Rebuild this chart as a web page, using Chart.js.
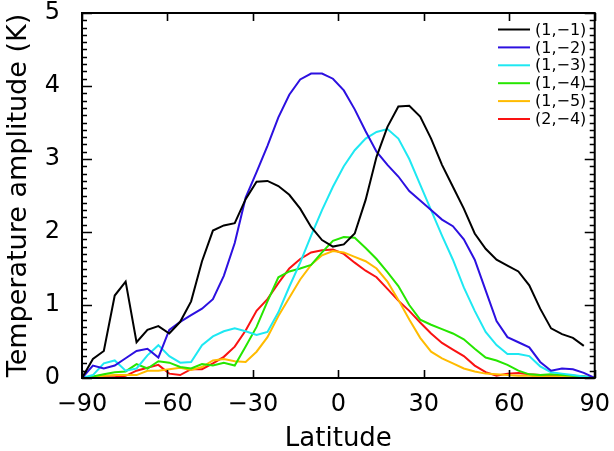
<!DOCTYPE html>
<html>
<head>
<meta charset="utf-8">
<script src="https://cdn.jsdelivr.net/npm/chart.js@4.4.1/dist/chart.umd.min.js"></script>
<style>
  html, body { margin: 0; padding: 0; background: #fff; }
  #wrap { width: 614px; height: 451px; }
</style>
</head>
<body>
<div id="wrap"><canvas id="ampChart" width="614" height="451"></canvas></div>
<script>
// latitude grid (deg)
const lats = [-90, -86.17, -82.34, -78.51, -74.68, -70.85, -67.02, -63.19, -59.36, -55.53,
  -51.70, -47.87, -44.04, -40.21, -36.38, -32.55, -28.72, -24.89, -21.06, -17.23,
  -13.40, -9.57, -5.74, -1.91, 1.91, 5.74, 9.57, 13.40, 17.23, 21.06,
  24.89, 28.72, 32.55, 36.38, 40.21, 44.04, 47.87, 51.70, 55.53, 59.36,
  63.19, 67.02, 70.85, 74.68, 78.51, 82.34, 86.17, 90];

// temperature amplitude (K) per mode
const mode_1_1 = [0, 0.26, 0.37, 1.13, 1.32, 0.49, 0.66, 0.71, 0.61, 0.77,
  1.05, 1.6, 2.02, 2.09, 2.12, 2.45, 2.69, 2.70, 2.63, 2.51,
  2.32, 2.07, 1.89, 1.80, 1.83, 1.98, 2.44, 3.03, 3.44, 3.72,
  3.73, 3.58, 3.28, 2.92, 2.62, 2.32, 1.98, 1.77, 1.62, 1.54,
  1.46, 1.27, 0.95, 0.68, 0.60, 0.55, 0.44, null];
const mode_1_2 = [0, 0.17, 0.13, 0.17, 0.27, 0.37, 0.40, 0.28, 0.66, 0.77,
  0.86, 0.95, 1.08, 1.4, 1.85, 2.47, 2.82, 3.18, 3.57, 3.88,
  4.09, 4.17, 4.17, 4.10, 3.94, 3.68, 3.38, 3.10, 2.92, 2.76,
  2.56, 2.43, 2.30, 2.17, 2.08, 1.90, 1.62, 1.20, 0.78, 0.56,
  0.49, 0.42, 0.22, 0.10, 0.13, 0.12, 0.07, 0];
const mode_1_3 = [0, 0.04, 0.20, 0.24, 0.10, 0.13, 0.31, 0.45, 0.30, 0.21,
  0.22, 0.45, 0.57, 0.64, 0.68, 0.64, 0.59, 0.63, 0.90, 1.25,
  1.58, 1.95, 2.30, 2.62, 2.90, 3.12, 3.28, 3.37, 3.41, 3.28,
  3.00, 2.65, 2.30, 1.95, 1.62, 1.24, 0.92, 0.63, 0.45, 0.33,
  0.33, 0.30, 0.16, 0.08, 0.06, 0.04, 0.02, 0];
const mode_1_4 = [0, 0.02, 0.05, 0.08, 0.09, 0.19, 0.13, 0.23, 0.21, 0.15,
  0.13, 0.19, 0.17, 0.21, 0.17, 0.43, 0.70, 1.05, 1.38, 1.46,
  1.50, 1.55, 1.72, 1.88, 1.93, 1.92, 1.78, 1.63, 1.45, 1.26,
  1.00, 0.80, 0.73, 0.67, 0.61, 0.53, 0.40, 0.28, 0.24, 0.18,
  0.10, 0.05, 0.04, 0.05, 0.04, 0.03, 0.02, 0];
const mode_1_5 = [0, 0.01, 0.03, 0.04, 0.04, 0.04, 0.10, 0.10, 0.12, 0.14,
  0.11, 0.15, 0.24, 0.26, 0.23, 0.22, 0.36, 0.56, 0.85, 1.10,
  1.35, 1.55, 1.68, 1.74, 1.72, 1.66, 1.60, 1.50, 1.32, 1.07,
  0.80, 0.55, 0.36, 0.27, 0.20, 0.13, 0.09, 0.06, 0.05, 0.04,
  0.03, 0.03, 0.02, 0.02, 0.02, 0.01, 0.01, 0];
const mode_2_4 = [0, 0, 0.01, 0.01, 0.03, 0.10, 0.14, 0.18, 0.06, 0.04,
  0.12, 0.12, 0.20, 0.29, 0.43, 0.65, 0.92, 1.08, 1.30, 1.50,
  1.63, 1.72, 1.75, 1.76, 1.70, 1.58, 1.47, 1.38, 1.22, 1.06,
  0.92, 0.76, 0.61, 0.48, 0.39, 0.30, 0.17, 0.08, 0.03, 0.06,
  0.07, 0.05, 0.04, 0.04, 0.04, 0.03, 0.02, 0];

const seriesNames = ["(1,\u22121)", "(1,\u22122)", "(1,\u22123)", "(1,\u22124)", "(1,\u22125)", "(2,\u22124)"];
const seriesValues = [mode_1_1, mode_1_2, mode_1_3, mode_1_4, mode_1_5, mode_2_4];
const seriesColors = ["#000000", "#2c10e0", "#1ee8f2", "#26e600", "#ffbb00", "#fa1212"];

const xTicks = [-90, -60, -30, 0, 30, 60, 90];
const yMax = 5;

const FONT = "'DejaVu Sans', sans-serif";

// IDL style box: frame, inward ticks, legend in the upper right
const framePlugin = {
  id: "frame",
  afterDatasetsDraw(chart) {
    const { ctx, chartArea: a, scales: { x, y } } = chart;
    ctx.save();
    ctx.strokeStyle = "#000";
    ctx.lineWidth = 1.6;
    ctx.beginPath();
    xTicks.forEach((v) => {
      const px = Math.round(x.getPixelForValue(v)) + 0.5;
      ctx.moveTo(px, a.bottom); ctx.lineTo(px, a.bottom - 8);
      ctx.moveTo(px, a.top); ctx.lineTo(px, a.top + 8);
    });
    for (let k = 0; k <= yMax * 10; k++) {
      const py = Math.round(y.getPixelForValue(k / 10)) + 0.5;
      const len = k % 10 === 0 ? 10 : 5;
      ctx.moveTo(a.left, py); ctx.lineTo(a.left + len, py);
      ctx.moveTo(a.right, py); ctx.lineTo(a.right - len, py);
    }
    ctx.stroke();

    ctx.lineWidth = 2;
    ctx.strokeRect(a.left, a.top, a.right - a.left, a.bottom - a.top);

    // legend
    ctx.font = "16px " + FONT;
    ctx.textBaseline = "middle";
    ctx.textAlign = "left";
    seriesNames.forEach((name, i) => {
      const ly = 29.5 + i * 17.9;
      ctx.strokeStyle = seriesColors[i];
      ctx.beginPath();
      ctx.moveTo(498, ly); ctx.lineTo(530, ly);
      ctx.stroke();
      ctx.fillStyle = "#000";
      ctx.fillText(name, 535, ly + 1);
    });
    ctx.restore();
  }
};

const ctx = document.getElementById("ampChart");

const ampChart = new Chart(ctx, {
  type: "line",
  data: {
    datasets: seriesValues.map((vals, i) => ({
      label: seriesNames[i],
      data: lats.map((lat, j) => ({ x: lat, y: vals[j] })),
      borderColor: seriesColors[i],
      backgroundColor: seriesColors[i],
      borderWidth: 2,
      pointRadius: 0,
      tension: 0,
      fill: false,
      clip: false,
    })),
  },
  options: {
    responsive: false,
    animation: false,
    layout: { padding: { top: 13, right: 16, left: 0, bottom: 0 } },
    plugins: {
      legend: { display: false },
      tooltip: { enabled: false },
    },
    scales: {
      x: {
        type: "linear",
        min: -90,
        max: 90,
        grid: { display: false },
        border: { display: false },
        afterFit: (s) => { s.height = 73; },
        afterBuildTicks: (s) => { s.ticks = xTicks.map((v) => ({ value: v })); },
        ticks: {
          color: "#000",
          padding: 4,
          maxRotation: 0,
          font: { family: FONT, size: 24 },
          callback: (v) => String(v).replace("-", "\u2212"),
        },
        title: {
          display: true,
          text: "Latitude",
          color: "#000",
          font: { family: FONT, size: 26 },
          padding: { top: 0, bottom: -4 },
        },
      },
      y: {
        min: 0,
        max: yMax,
        grid: { display: false },
        border: { display: false },
        afterFit: (s) => {
          s.width = 82;
          s.paddingTop = 0;
          s.paddingBottom = 0;
        },
        ticks: {
          stepSize: 1,
          color: "#000",
          padding: 14,
          font: { family: FONT, size: 24 },
        },
        title: {
          display: true,
          text: "Temperature amplitude (K)",
          color: "#000",
          font: { family: FONT, size: 27 },
          padding: { top: 3, bottom: 0 },
        },
      },
    },
  },
  plugins: [framePlugin],
});
</script>
</body>
</html>
